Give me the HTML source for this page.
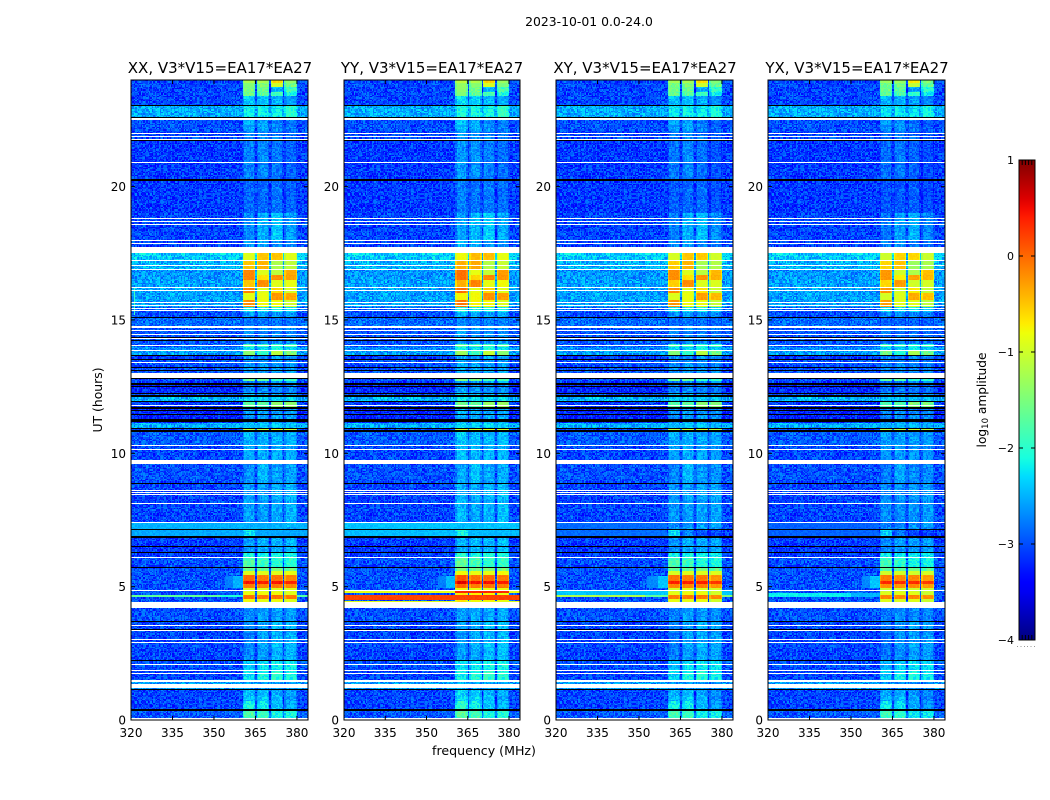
<!DOCTYPE html>
<html>
<head>
<meta charset="utf-8">
<title>2023-10-01 0.0-24.0</title>
<style>
html,body{margin:0;padding:0;background:#fff;width:1050px;height:800px;overflow:hidden}
#figure{position:relative;width:1050px;height:800px}
canvas{position:absolute;top:80px;image-rendering:pixelated}
svg{position:absolute;left:0;top:0}
text{font-family:"DejaVu Sans","Liberation Sans",sans-serif;fill:#000}
</style>
</head>
<body>
<div id="figure">
<canvas id="heat0" width="177" height="640" style="left:131px"></canvas>
<canvas id="heat1" width="176" height="640" style="left:344px"></canvas>
<canvas id="heat2" width="177" height="640" style="left:556px"></canvas>
<canvas id="heat3" width="177" height="640" style="left:768px"></canvas>
<svg id="overlay" width="1050" height="800" xmlns="http://www.w3.org/2000/svg">
<defs><linearGradient id="jetGradient" x1="0" y1="1" x2="0" y2="0"></linearGradient></defs>
<text x="589" y="26" text-anchor="middle" font-size="12.4">2023-10-01 0.0-24.0</text>
<text x="220" y="73" text-anchor="middle" font-size="15">XX, V3*V15=EA17*EA27</text>
<text x="432" y="73" text-anchor="middle" font-size="15">YY, V3*V15=EA17*EA27</text>
<text x="645" y="73" text-anchor="middle" font-size="15">XY, V3*V15=EA17*EA27</text>
<text x="857" y="73" text-anchor="middle" font-size="15">YX, V3*V15=EA17*EA27</text>
<text x="484" y="755" text-anchor="middle" font-size="12.6">frequency (MHz)</text>
<text transform="translate(102,400) rotate(-90)" text-anchor="middle" font-size="12.4">UT (hours)</text>
<text transform="translate(986,400) rotate(-90)" text-anchor="middle" font-size="12.2">log<tspan font-size="8.5" dy="2">10</tspan><tspan dy="-2"> amplitude</tspan></text>
</svg>
</div>
<script>
// ---- chart data (hours, MHz, log10 amplitude) ----
const panelNames = ['xx', 'yy', 'xy', 'yx'];
const freqTicks = [320, 335, 350, 365, 380];
const hourTicks = [0, 5, 10, 15, 20];
const colorbarTicks = [1, 0, -1, -2, -3, -4];
const colorbarTickLabels = ['1', '0', '\u22121', '\u22122', '\u22123', '\u22124'];
// sub-band edges in MHz
const subbandStart = [360.5, 365.6, 370.6, 375.7];
const subbandEnd = [365.0, 370.0, 375.0, 380.0];
// [top hour, background, band 1, band 2, band 3, band 4]; each runs down to the next row's top
const timeSegments = [
  [24.0,-3.05,-1.2,-1.25,-0.6,-1.4],[23.9,-3.05,-1.45,-1.5,-1.0,-1.55],[23.75,-3.05,-1.5,-1.6,-2.5,-1.9],
  [23.55,-3.05,-1.6,-1.7,-1.8,-2.1],[23.42,-3.05,-2.4,-2.4,-2.5,-2.6],[23.06,-2.55,-2.2,-2.2,-2.2,-2.0],
  [22.6,-3.0,-2.5,-2.6,-2.7,-2.8],[22.1,-3.05,-2.7,-2.7,-2.8,-2.85],[21.75,-3.1,-2.75,-2.7,-2.8,-2.9],
  [20.25,-3.1,-2.85,-2.85,-2.8,-2.9],[19.0,-3.05,-2.7,-2.5,-2.4,-2.6],[18.0,-3.05,-2.6,-2.6,-2.7,-2.7],
  [17.5,-2.4,-0.9,-0.5,-0.5,-0.9],[17.2,-2.5,-0.5,-0.4,-1.2,-1.1],[16.9,-2.65,-0.15,-0.9,-1.1,-0.35],
  [16.7,-2.65,-0.15,-0.65,-0.2,-0.3],[16.5,-2.6,-0.5,-0.2,-0.9,-0.85],[16.25,-2.6,-0.15,-0.9,-0.6,-0.95],
  [16.0,-2.6,-0.85,-0.85,-0.25,-0.35],[15.75,-2.6,-0.2,-0.8,-0.8,-1.0],[15.5,-2.95,-2.2,-2.2,-2.2,-2.3],
  [15.3,-3.0,-2.6,-2.6,-2.6,-2.6],[15.1,-2.85,-2.8,-2.8,-2.8,-2.8],[14.75,-2.95,-2.7,-2.7,-2.7,-2.7],
  [14.12,-2.95,-1.9,-1.9,-1.9,-1.9],[14.0,-2.7,-2.3,-2.3,-2.1,-2.3],[13.86,-2.6,-1.4,-1.9,-1.1,-1.5],
  [13.68,-3.1,-2.6,-2.7,-2.6,-2.6],[13.53,-3.0,-2.7,-2.7,-2.7,-2.7],[13.41,-3.0,-2.6,-2.6,-2.6,-2.6],
  [12.84,-3.0,-1.6,-1.6,-1.9,-1.9],[12.7,-3.1,-2.7,-2.7,-2.6,-2.6],[12.6,-3.2,-2.7,-2.7,-2.7,-2.7],
  [12.25,-2.95,-2.4,-2.5,-2.5,-2.5],[12.12,-2.5,-2.3,-2.3,-2.3,-2.3],[11.95,-3.1,-1.7,-1.7,-1.4,-1.4],
  [11.7,-3.2,-2.6,-2.6,-2.6,-2.6],[11.17,-2.55,-2.4,-2.4,-2.4,-2.4],[10.95,-3.1,-1.0,-1.0,-0.9,-1.0],
  [10.8,-2.95,-2.5,-2.5,-2.5,-2.5],[10.3,-3.05,-2.55,-2.55,-2.55,-2.55],[9.6,-3.0,-2.65,-2.5,-2.6,-2.6],
  [8.87,-3.05,-2.6,-2.6,-2.55,-2.5],[7.14,-3.05,-2.2,-2.7,-2.9,-2.9],[6.84,-3.1,-2.6,-2.5,-2.5,-2.5],
  [6.29,-3.1,-2.1,-2.1,-2.1,-2.1],[6.11,-3.0,-1.8,-1.9,-2.0,-2.0],[5.71,-3.0,-1.6,-1.6,-1.5,-1.6],
  [5.6,-3.0,-0.9,-0.9,-0.9,-0.85],[5.44,-3.0,0.0,-0.1,-0.05,-0.15],[5.18,-3.0,0.45,0.4,0.45,0.35],
  [5.1,-3.0,-0.1,-0.15,-0.1,-0.15],[4.95,-3.0,-0.9,-0.9,-0.9,-0.9],[4.8,-3.0,-0.8,-0.8,-0.8,-0.9],
  [4.7,-3.0,-0.05,-0.1,-0.05,-0.1],[4.55,-3.0,-0.8,-0.85,-0.8,-0.9],[4.42,-3.0,-2.7,-2.6,-2.6,-2.6],
  [3.69,-3.05,-2.7,-2.6,-2.5,-2.5],[2.24,-3.0,-2.4,-2.3,-2.2,-2.2],[1.84,-3.05,-2.3,-2.1,-2.0,-2.1],
  [1.45,-2.6,-2.6,-2.6,-2.6,-2.6],[1.16,-3.05,-2.4,-2.4,-2.5,-2.6],[0.7,-3.05,-2.1,-2.2,-2.4,-2.5],
  [0.33,-2.95,-1.8,-1.9,-2.1,-2.1]
];
// additive level per panel and sub-band
const panelBandOffsets = [
  [0, 0, 0, 0],
  [0.12, 0.06, 0.04, 0.06],
  [-0.05, 0, -0.03, -0.08],
  [-0.1, -0.08, -0.1, -0.12]
];
// [panel index, top hour, bottom hour, level, fMin, fMax]
const burstRows = [
  [0,16.2,15.2,-1.9,320.8,321.3],
  [0,7.41,7.14,-2.5,320,384],[0,7.14,6.88,-2.55,320,384],
  [0,4.68,4.58,-1.7,320,352],[0,4.68,4.58,-2.1,352,360.5],[0,4.68,4.58,-1.8,380,384],
  [0,5.4,4.95,-2.75,354,357],[0,5.4,4.95,-2.5,357,360.5],
  [1,7.41,7.14,-2.42,320,384],[1,7.14,6.88,-2.45,320,384],
  [1,4.87,4.73,-0.85,320,360.5],[1,4.87,4.73,0.35,360.5,380],[1,4.87,4.73,-0.85,380,384],
  [1,4.69,4.5,0.2,320,384],[1,4.47,4.42,-0.9,320,384],
  [1,5.4,4.95,-2.75,354,357],[1,5.4,4.95,-2.45,357,360.5],
  [2,7.41,6.88,-2.85,320,360],[2,4.85,4.72,-2.4,320,384],[2,4.72,4.58,-1.2,320,352],
  [2,4.72,4.58,-1.7,352,360.5],[2,4.72,4.58,-1.5,380,384],[2,5.4,4.95,-2.7,353,357],[2,5.4,4.95,-2.4,357,360.5],
  [3,7.41,6.88,-2.9,320,360],[3,4.75,4.6,-2.2,320,350],[3,4.75,4.6,-2.5,350,360.5],
  [3,5.4,4.95,-2.7,354,357],[3,5.4,4.95,-2.4,357,360.5]
];
// fully flagged (white) time ranges, top and bottom hour
const whiteGaps = [
  [22.58,22.5],[22.02,21.98],[21.91,21.87],[21.8,21.76],[20.92,20.88],[18.82,18.78],[18.72,18.68],[18.61,18.57],
  [18.01,17.97],[17.88,17.84],[17.72,17.52],[17.24,17.2],[17.07,17.03],[16.92,16.88],[16.23,16.19],[16.14,16.1],
  [15.67,15.63],[15.56,15.52],[15.44,15.4],[15.36,15.32],[14.77,14.7],[14.62,14.58],[14.49,14.45],[14.32,14.28],
  [14.08,14.04],[13.88,13.84],[13.43,13.39],[13.0,12.84],[11.82,11.78],[10.32,10.28],[10.18,10.14],[9.75,9.6],
  [8.62,8.58],[8.54,8.5],[8.46,8.42],[8.14,8.1],[7.43,7.39],[6.13,6.09],[4.87,4.83],[4.42,4.21],[3.57,3.53],
  [3.38,3.32],[3.03,2.99],[2.92,2.88],[2.11,2.07],[1.86,1.82],[1.77,1.73],[1.5,1.44],[1.35,1.19],[0.06,0]
];
// zero-amplitude (black) rows
const blackLines = [
  [23.08,23.04],[22.62,22.58],[21.76,21.72],[20.28,20.22],[15.12,15.06],[14.38,14.34],[14.25,14.2],[13.7,13.66],
  [13.55,13.51],[13.24,13.21],[13.14,13.1],[12.81,12.77],[12.62,12.58],[12.52,12.48],[12.27,12.23],[12.17,12.13],
  [11.96,11.92],[11.72,11.68],[11.61,11.57],[11.46,11.42],[11.27,11.17],[10.94,10.9],[10.87,10.8],[8.89,8.85],
  [7.16,7.12],[6.9,6.84],[6.51,6.47],[6.31,6.27],[5.73,5.69],[3.71,3.67],[3.4,3.38],[2.26,2.2],[1.18,1.12],[0.4,0.33]
];
// hand-entered speckle texture added to each cell, log10 units
const speckleTexture = [
  0.12,-0.21,0.05,0.31,-0.08,-0.34,0.18,0.02,-0.15,0.26,-0.29,0.09,-0.04,0.22,-0.38,0.14,0.33,-0.11,0.01,-0.24,
  0.28,0.07,-0.18,-0.02,0.35,-0.31,0.11,-0.07,0.19,-0.26,0.04,0.24,-0.13,-0.36,0.16,0.29,-0.05,0.08,-0.22,0.13,
  -0.33,0.21,0.03,-0.1,0.38,-0.17,-0.27,0.06,0.25,-0.01,-0.2,0.15,0.32,-0.12,-0.4,0.1,0.2,-0.06,-0.28,0.27,
  0,-0.16,0.17,0.34,-0.23,-0.09,0.23,-0.35,0.06,0.3,-0.14,-0.03,0.12,-0.3,0.36,0.02,-0.19,0.09,-0.25,0.16,
  0.26,-0.37,0.05,-0.08,0.2,-0.12,0.39,-0.24,-0.02,0.14,-0.32,0.22,0.07,-0.17,0.28,-0.06,-0.21,0.11,0.31,-0.29,
  0.03,0.18,-0.1,-0.39,0.25,0.08,-0.15,0.37,-0.04,-0.26,0.13,-0.33,0.19,0.01,-0.11,0.29,-0.2,0.04,0.24,-0.07,
  -0.3,0.15,0.34,-0.16,0.1,-0.23,0.21
];

// ---- layout and scales ----
const panelLeft = [131, 344, 556, 768];
const panelWidth = [177, 176, 177, 177];
const panelTop = 80, panelHeight = 640;
const freqMin = 320, freqMax = 384, hourMax = 24;
const channelCount = 128, rowCount = 480;
const barLeft = 1019, barWidth = 16, barTop = 160, barHeight = 480;
const levelMin = -4, levelMax = 1;

function xScale(panel, freq) { return panelLeft[panel] + (freq - freqMin) / (freqMax - freqMin) * panelWidth[panel]; }
function yScale(hour) { return panelTop + (hourMax - hour) / hourMax * panelHeight; }
function barY(level) { return barTop + (levelMax - level) / (levelMax - levelMin) * barHeight; }

function clamp(v) { return Math.max(0, Math.min(1, v)); }
function ramp(t, a, b) { return clamp((t - a) / (b - a)); }
function jetColor(t) {
  t = clamp(t);
  let r = t < 0.89 ? ramp(t, 0.35, 0.66) : 1 - 0.5 * ramp(t, 0.89, 1);
  let g = t < 0.64 ? ramp(t, 0.125, 0.375) : 1 - ramp(t, 0.64, 0.91);
  let b = t < 0.34 ? 0.5 + 0.5 * ramp(t, 0, 0.11) : 1 - ramp(t, 0.34, 0.65);
  return 'rgb(' + Math.round(r * 255) + ',' + Math.round(g * 255) + ',' + Math.round(b * 255) + ')';
}
function levelColor(level) { return jetColor((level - levelMin) / (levelMax - levelMin)); }

function segmentAt(hour) {
  let found = timeSegments[0];
  for (const seg of timeSegments) { if (seg[0] >= hour) found = seg; else break; }
  return found;
}

function cellLevel(panel, hour, freq, i, j) {
  const seg = segmentAt(hour);
  const n = speckleTexture[(i * i * 3 + j * j * 5 + i * j * 7 + i * 11 + j * 13) % speckleTexture.length];
  let level = seg[1];
  let noise = 0.9;
  for (let b = 0; b < 4; b++) {
    if (freq >= subbandStart[b] && freq <= subbandEnd[b]) {
      const edge = Math.min(freq - subbandStart[b], subbandEnd[b] - freq);
      level = seg[2 + b] + panelBandOffsets[panel][b] - (edge < 0.5 ? 0.22 : 0);
      noise = level > -1.5 ? 0.15 : 0.6;
    }
  }
  for (const br of burstRows) {
    if (br[0] === panel && hour <= br[1] && hour >= br[2] && freq >= br[4] && freq <= br[5] && br[3] > level) {
      level = br[3];
      noise = level > -1.5 ? 0.15 : 0.25;
    }
  }
  return level + n * noise;
}

// ---- heatmap cells ----
panelNames.forEach(function (name, p) {
  const ctx = document.getElementById('heat' + p).getContext('2d');
  ctx.fillStyle = '#ffffff';
  ctx.fillRect(0, 0, panelWidth[p], panelHeight);
  for (let j = 0; j < rowCount; j++) {
    const hTop = hourMax * (1 - j / rowCount);
    const hBot = hourMax * (1 - (j + 1) / rowCount);
    const hMid = (hTop + hBot) / 2;
    const y0 = Math.round(yScale(hTop) - panelTop);
    const y1 = Math.round(yScale(hBot) - panelTop);
    for (let i = 0; i < channelCount; i++) {
      const f0 = freqMin + (freqMax - freqMin) * i / channelCount;
      const f1 = freqMin + (freqMax - freqMin) * (i + 1) / channelCount;
      const x0 = Math.round(xScale(p, f0) - panelLeft[p]);
      const x1 = Math.round(xScale(p, f1) - panelLeft[p]);
      ctx.fillStyle = levelColor(cellLevel(p, hMid, (f0 + f1) / 2, i, j));
      ctx.fillRect(x0, y0, x1 - x0, y1 - y0);
    }
  }
});

// ---- overlay ----
const svg = document.getElementById('overlay');
const NS = 'http://www.w3.org/2000/svg';
function shape(tag) { const el = document.createElementNS(NS, tag); svg.appendChild(el); return el; }
function box(el, x, y, w, h, fill) {
  el.setAttribute('x', x); el.setAttribute('y', y); el.setAttribute('width', w); el.setAttribute('height', h);
  el.setAttribute('fill', fill);
  el.setAttribute('shape-rendering', 'crispEdges');
}
function line(el, x1, y1, x2, y2, color, width) {
  el.setAttribute('x1', x1); el.setAttribute('y1', y1); el.setAttribute('x2', x2); el.setAttribute('y2', y2);
  el.setAttribute('stroke', color); el.setAttribute('stroke-width', width);
}
function label(el, x, y, anchor, size, str) {
  el.setAttribute('x', x); el.setAttribute('y', y);
  el.setAttribute('text-anchor', anchor); el.setAttribute('font-size', size);
  el.textContent = str;
}

panelNames.forEach(function (name, p) {
  const left = panelLeft[p], w = panelWidth[p];
  whiteGaps.forEach(function (g) {
    const y0 = Math.round(yScale(g[0]));
    const h = Math.max(1, Math.round(yScale(g[1])) - y0);
    const el = shape('rect');
    box(el, left, y0, w, h, '#ffffff');
    
    
  });
  blackLines.forEach(function (g) {
    const y0 = Math.round(yScale(g[0]));
    const h = Math.max(1, Math.round(yScale(g[1])) - y0);
    const el = shape('rect');
    box(el, left, y0, w, h, '#000000');
    
    
  });
  const frame = shape('rect');
  frame.setAttribute('x', left);
  frame.setAttribute('y', panelTop);
  frame.setAttribute('width', w);
  frame.setAttribute('height', panelHeight);
  frame.setAttribute('fill', 'none');
  frame.setAttribute('stroke', '#000');
  frame.setAttribute('stroke-width', 1);
  
  

  freqTicks.forEach(function (f) {
    const x = xScale(p, f);
    const bottomTick = shape('line');
    line(bottomTick, x, panelTop + panelHeight, x, panelTop + panelHeight - 4, '#000', 1);
    
    
    const topTick = shape('line');
    line(topTick, x, panelTop, x, panelTop + 4, '#000', 1);
    
    
    const t = shape('text');
    label(t, x, panelTop + panelHeight + 17, 'middle', 12, String(f));
    
    
  });
  hourTicks.forEach(function (h) {
    const y = yScale(h);
    const leftTick = shape('line');
    line(leftTick, left, y, left + 4, y, '#000', 1);
    
    
    const rightTick = shape('line');
    line(rightTick, left + w, y, left + w - 4, y, '#000', 1);
    
    
    const t = shape('text');
    label(t, left - 5, y + 4.5, 'end', 12, String(h));
    
    
  });
});

// ---- colour bar ----
const grad = document.getElementById('jetGradient');
for (let k = 0; k <= 50; k++) {
  const stop = document.createElementNS(NS, 'stop');
  stop.setAttribute('offset', (k / 50 * 100) + '%');
  stop.setAttribute('stop-color', jetColor(k / 50));
  grad.appendChild(stop);
}
const bar = shape('rect');
bar.setAttribute('x', barLeft);
bar.setAttribute('y', barTop);
bar.setAttribute('width', barWidth);
bar.setAttribute('height', barHeight);
bar.setAttribute('fill', 'url(#jetGradient)');
bar.setAttribute('stroke', '#000');
bar.setAttribute('stroke-width', 1);


colorbarTicks.forEach(function (v, k) {
  const y = barY(v);
  const a = shape('line');
  line(a, barLeft, y, barLeft + 4, y, '#000', 1);
  
  
  const b = shape('line');
  line(b, barLeft + barWidth, y, barLeft + barWidth - 4, y, '#000', 1);
  
  
  const t = shape('text');
  label(t, barLeft - 5, y + 4, 'end', 11, colorbarTickLabels[k]);
  
  
});
[0.2, 0.4, 0.6, 0.8].forEach(function (frac) {
  const x = barLeft + barWidth * frac;
  const top = shape('line');
  line(top, x, barTop, x, barTop + 5, '#000', 1);
  
  
  const bottom = shape('line');
  line(bottom, x, barTop + barHeight, x, barTop + barHeight - 5, '#000', 1);
  
  
});
for (let k = 0; k < 6; k++) {
  const dot = shape('rect');
  box(dot, barLeft - 2 + k * 3.4, barTop + barHeight + 6, 1, 1, '#999999');
  
  
}
</script>
</body>
</html>
